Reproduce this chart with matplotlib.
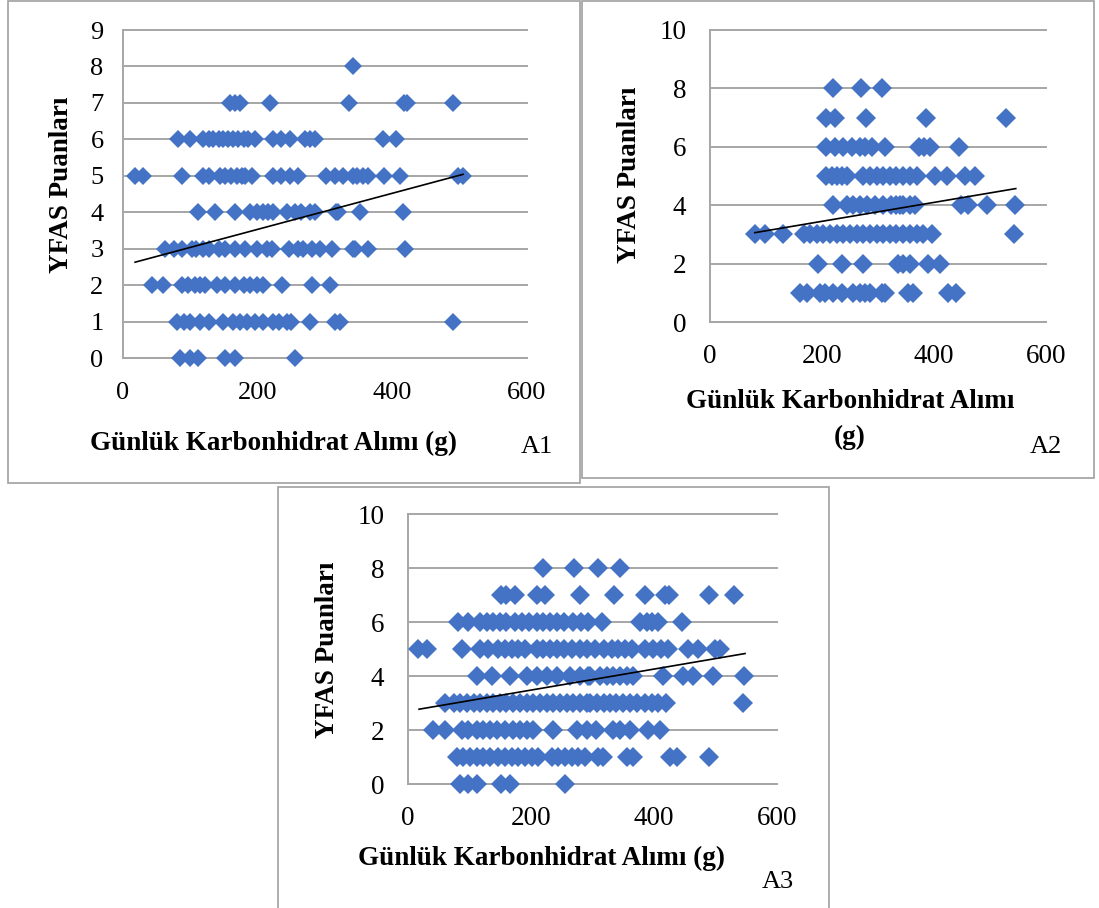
import matplotlib
matplotlib.use("Agg")
import matplotlib.pyplot as plt
from matplotlib.patches import Rectangle
import numpy as np

plt.rcParams['font.family'] = ['Liberation Serif', 'DejaVu Serif']

BLUE = '#4472C4'
GRID = '#a6a6a6'
W, H = 1099, 908

# daily carbohydrate intake (g) grouped by YFAS score
a1_points = {
    8: [342],
    7: [159, 166, 174, 218, 336, 417, 422, 490],
    6: [82, 100, 119, 127, 134, 142, 149, 156, 164, 171, 179, 186, 196, 223, 235, 248,
        270, 278, 285, 386, 406],
    5: [18, 30, 87, 119, 127, 144, 151, 161, 169, 176, 181, 191, 223, 235, 248, 260,
        302, 315, 327, 342, 347, 357, 364, 387, 411, 498, 505],
    4: [112, 137, 166, 189, 199, 208, 216, 223, 243, 255, 265, 278, 285, 317, 320, 352, 416],
    3: [62, 75, 87, 102, 109, 119, 127, 142, 152, 166, 181, 199, 214, 221, 246, 260,
        268, 280, 293, 310, 342, 345, 364, 419],
    2: [43, 60, 87, 97, 107, 114, 122, 139, 151, 166, 179, 189, 199, 208, 236, 280, 307],
    1: [80, 90, 100, 114, 127, 149, 164, 174, 184, 196, 208, 223, 231, 243, 250, 278,
        315, 322, 490],
    0: [85, 100, 112, 151, 166, 255],
}
a1_trend = (0.00495, 2.54)
a1_trend_x = (18, 505)

a2_points = {
    8: [219, 270, 308],
    7: [208, 223, 279, 385, 529],
    6: [208, 223, 238, 253, 268, 277, 289, 312, 374, 383, 392, 445],
    5: [208, 217, 226, 235, 244, 274, 286, 298, 309, 321, 333, 345, 357, 369, 402, 423,
        455, 473],
    4: [219, 244, 256, 268, 280, 295, 309, 324, 333, 339, 345, 357, 366, 449, 461, 495, 545],
    3: [80, 98, 131, 167, 179, 191, 202, 214, 226, 238, 250, 262, 274, 286, 298, 309,
        321, 333, 345, 357, 369, 381, 396, 543],
    2: [193, 235, 274, 336, 345, 357, 390, 411],
    1: [161, 173, 196, 205, 220, 235, 256, 268, 277, 286, 307, 312, 354, 363, 425, 440],
}
a2_trend = (0.00324, 2.80)
a2_trend_x = (80, 546)

a3_points = {
    8: [219, 270, 309, 344],
    7: [152, 160, 174, 209, 223, 280, 335, 385, 418, 425, 490, 530],
    6: [82, 98, 117, 128, 139, 149, 160, 174, 185, 196, 209, 220, 231, 242, 253, 269,
        282, 293, 315, 377, 388, 396, 407, 446],
    5: [17, 31, 87, 117, 130, 147, 158, 169, 179, 190, 209, 220, 231, 242, 253, 266,
        280, 291, 304, 318, 331, 342, 353, 364, 385, 399, 412, 423, 456, 472, 499, 507],
    4: [112, 136, 166, 193, 209, 226, 242, 264, 280, 293, 296, 312, 323, 334, 345, 356,
        366, 415, 447, 464, 496, 546],
    3: [60, 74, 85, 96, 107, 117, 128, 139, 150, 160, 171, 182, 193, 204, 215, 226, 236,
        247, 258, 269, 280, 291, 296, 307, 318, 328, 339, 350, 361, 372, 385, 396, 407,
        420, 544],
    2: [41, 60, 87, 98, 112, 122, 133, 144, 158, 171, 182, 193, 204, 236, 274, 291, 306,
        334, 345, 361, 391, 410],
    1: [79, 90, 101, 112, 122, 133, 147, 158, 169, 179, 190, 201, 212, 234, 244, 255,
        266, 277, 288, 309, 317, 356, 366, 426, 437, 490],
    0: [85, 98, 112, 152, 166, 255],
}
a3_trend = (0.00389, 2.70)
a3_trend_x = (18, 548)

x_ticks = [0, 200, 400, 600]


def px_rect(left, top, right, bottom):
    return [left / W, 1 - bottom / H, (right - left) / W, (bottom - top) / H]


def draw_panel(fig, rect, points, trend, trend_x, ymax, ystep, ms, fs, ypad, xpad):
    ax = fig.add_axes(rect)
    xs, ys = [], []
    for level, vals in points.items():
        xs += vals
        ys += [level] * len(vals)
    ax.plot(xs, ys, 'D', color=BLUE, ms=ms, mec=BLUE, mew=0, clip_on=False, zorder=3)
    tx = np.array(trend_x, dtype=float)
    ax.plot(tx, trend[0] * tx + trend[1], color='black', lw=1.2, zorder=4)

    ax.set_xlim(0, 600)
    ax.set_ylim(0, ymax)
    ax.set_xticks(x_ticks)
    ax.set_yticks(np.arange(0, ymax + 1, ystep))
    ax.grid(axis='y', color=GRID, lw=1.4)
    ax.set_axisbelow(True)
    for s in ['top', 'right']:
        ax.spines[s].set_visible(False)
    ax.spines['left'].set_color(GRID)
    ax.spines['bottom'].set_color(GRID)
    ax.spines['left'].set_linewidth(1.4)
    ax.spines['bottom'].set_linewidth(1.4)
    ax.tick_params(axis='both', length=0, labelsize=fs)
    ax.tick_params(axis='y', pad=ypad)
    ax.tick_params(axis='x', pad=xpad)
    for line in ax.get_ygridlines():
        line.set_clip_on(False)
    return ax


fig = plt.figure(figsize=(W / 100, H / 100), dpi=100)

# panel frames
for left, top, right, bottom in [(8, 1, 580, 483), (582, 1, 1094, 478), (278, 487, 829, 912)]:
    fig.add_artist(Rectangle((left / W, 1 - bottom / H), (right - left) / W, (bottom - top) / H,
                             transform=fig.transFigure, fill=False, ec='#a0a0a0', lw=1.2))

draw_panel(fig, px_rect(123, 30, 527, 358), a1_points, a1_trend, a1_trend_x, 9, 1, 9.6, 19, 14, 17)
draw_panel(fig, px_rect(710, 30, 1046, 322), a2_points, a2_trend, a2_trend_x, 10, 2, 10.2, 19.5, 17, 16)
draw_panel(fig, px_rect(408, 514, 777, 784), a3_points, a3_trend, a3_trend_x, 10, 2, 10.4, 19.5, 17, 16)

label_kw = dict(fontsize=19.5, fontweight='bold', ha='center', va='center')
xlab = 'Günlük Karbonhidrat Alımı (g)'
ylab = 'YFAS Puanları'

fig.text(274 / W, 1 - 443 / H, xlab, **label_kw)
fig.text(62 / W, 1 - 185 / H, ylab, rotation=90, **label_kw)
fig.text(537 / W, 1 - 447 / H, 'A1', fontsize=19, ha='center', va='center')

fig.text(850 / W, 1 - 402 / H, 'Günlük Karbonhidrat Alımı', **label_kw)
fig.text(850 / W, 1 - 437 / H, '(g)', **label_kw)
fig.text(630 / W, 1 - 175 / H, ylab, rotation=90, **label_kw)
fig.text(1046 / W, 1 - 447 / H, 'A2', fontsize=19, ha='center', va='center')

fig.text(542 / W, 1 - 858 / H, xlab, **label_kw)
fig.text(328 / W, 1 - 650 / H, ylab, rotation=90, **label_kw)
fig.text(778 / W, 1 - 882 / H, 'A3', fontsize=19, ha='center', va='center')

fig.savefig('out.png', dpi=100)
